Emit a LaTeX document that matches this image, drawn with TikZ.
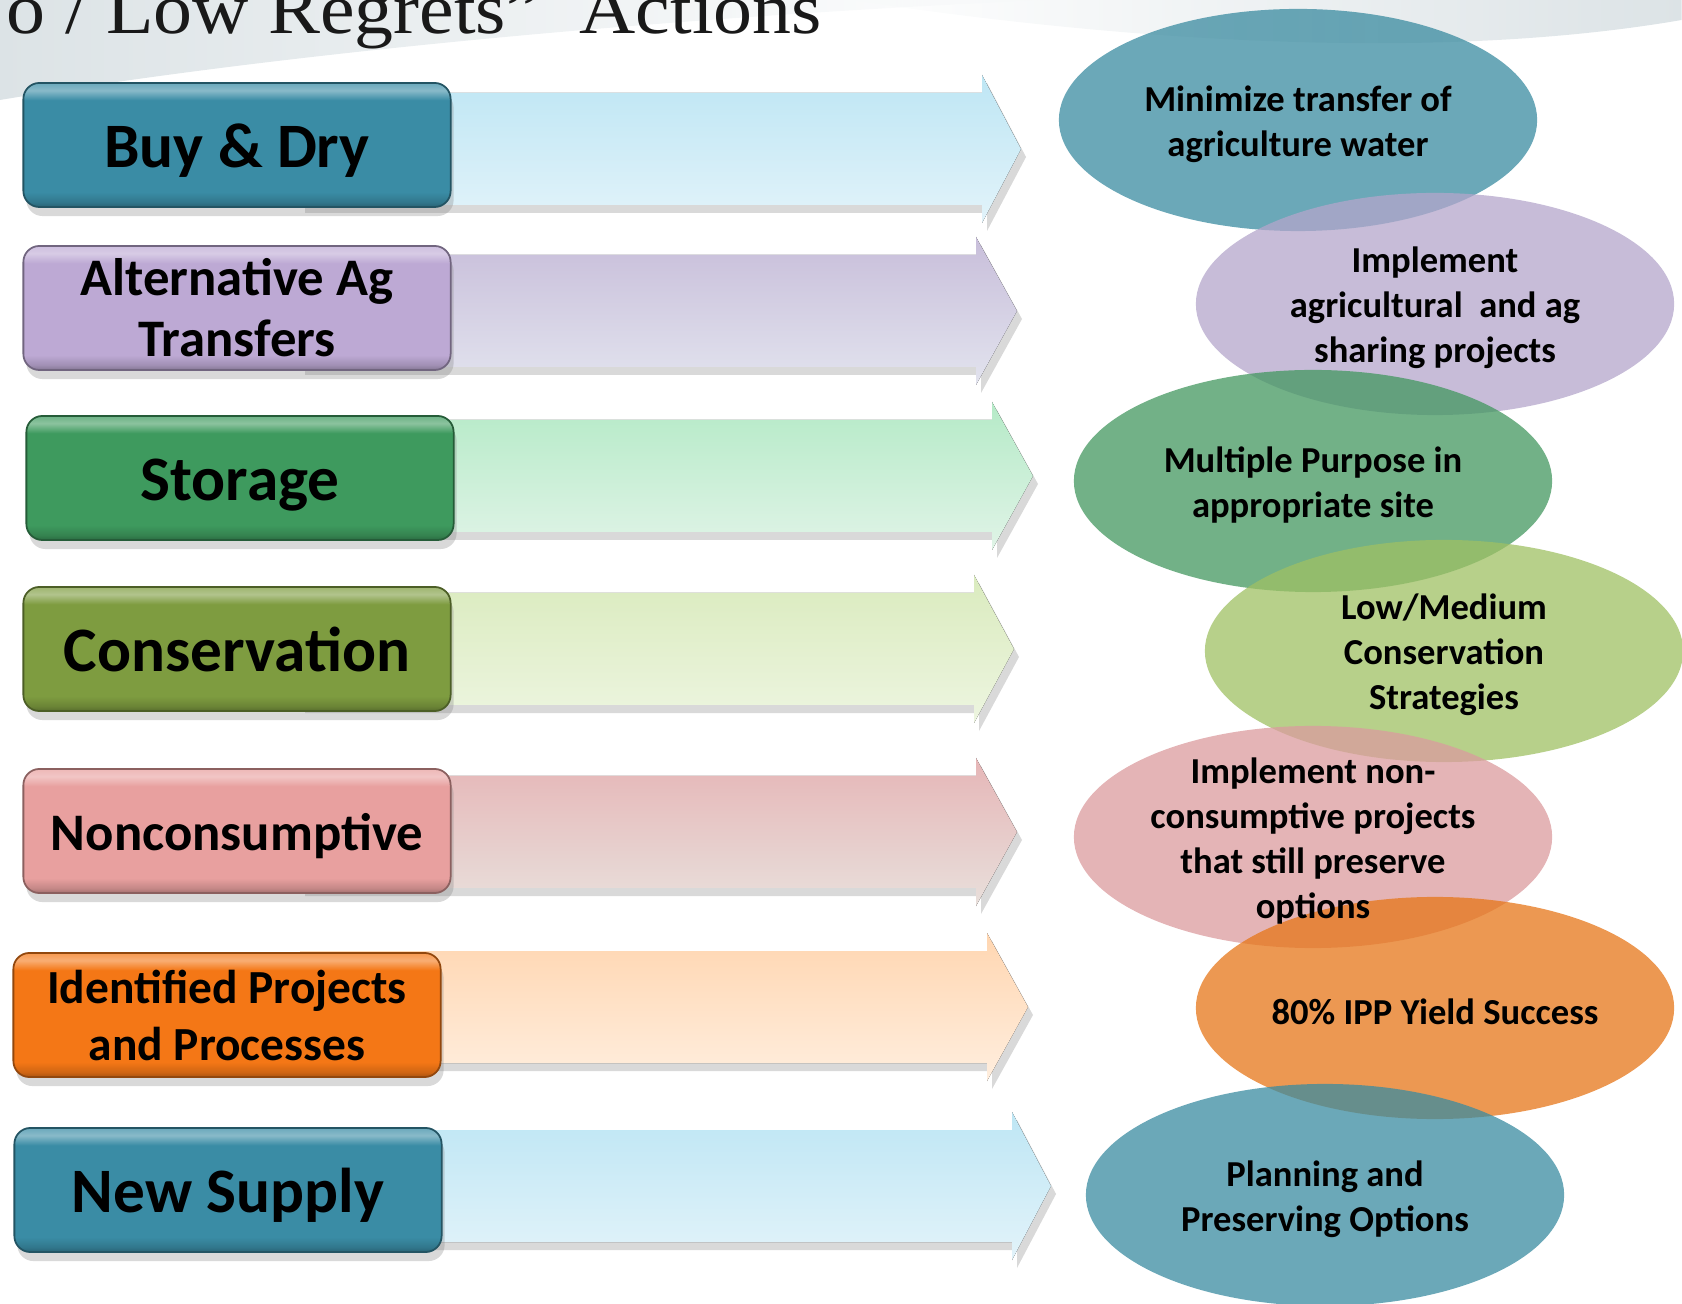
\documentclass[tikz,border=0pt]{standalone}
\usepackage{fontspec}
\setmainfont{Liberation Serif}
\newfontfamily\calib{Carlito}
\usetikzlibrary{shapes.geometric,shadows,positioning,fadings}

\colorlet{boxc}{gray}
\pgfdeclareverticalshading[boxc]{bevel}{100bp}{color(0bp)=(boxc!70!black); color(25bp)=(boxc!70!black); color(27bp)=(boxc!85!black); color(31bp)=(boxc); color(68bp)=(boxc); color(72bp)=(boxc!60!white); color(75bp)=(boxc!75!white); color(100bp)=(boxc!75!white)}

\definecolor{tealbox}{HTML}{3A8CA5}
\definecolor{lavbox}{HTML}{BDA9D4}
\definecolor{greenbox}{HTML}{3E9A5E}
\definecolor{olivebox}{HTML}{7E9C40}
\definecolor{pinkbox}{HTML}{E8A09F}
\definecolor{orangebox}{HTML}{F47716}

\definecolor{tealell}{HTML}{3A8BA0}
\definecolor{lavell}{HTML}{B4A6CB}
\definecolor{greenell}{HTML}{43975F}
\definecolor{limeell}{HTML}{9FC063}
\definecolor{pinkell}{HTML}{DB9B9E}
\definecolor{orangeell}{HTML}{E67618}

\definecolor{arBlueA}{HTML}{BEE6F4}
\definecolor{arBlueB}{HTML}{E2F3FA}
\definecolor{arLavA}{HTML}{C8BEDA}
\definecolor{arLavB}{HTML}{E2E3EE}
\definecolor{arGreenA}{HTML}{B5EAC7}
\definecolor{arGreenB}{HTML}{E0F4E7}
\definecolor{arLimeA}{HTML}{DAEBBE}
\definecolor{arLimeB}{HTML}{EDF5E0}
\definecolor{arPinkA}{HTML}{E6B6B7}
\definecolor{arPinkB}{HTML}{E8DFDB}
\definecolor{arOrA}{HTML}{FFD6B1}
\definecolor{arOrB}{HTML}{FFEEDE}
\definecolor{swooshgray}{HTML}{DCE3E6}

\tikzset{
	catbox/.style={rectangle, rounded corners=0.16cm, minimum width=4.27cm, minimum height=1.24cm,
		inner sep=0pt, align=center, draw=#1!60!black, line width=0.5pt,
		/utils/exec={\colorlet{boxc}{#1}}, shading=bevel,
		drop shadow={shadow xshift=0.3mm, shadow yshift=-0.9mm, opacity=0.3},
		font=\calib\bfseries\fontsize{18}{21.6}\selectfont},
	oneline/.style={text height=#1, text depth=0pt},
	ell/.style={ellipse, minimum width=4.78cm, minimum height=2.22cm, inner sep=0pt,
		fill=#1, fill opacity=0.75},
	etxt/.style={align=center, inner sep=0pt, yshift=-1.2pt, font=\calib\bfseries\fontsize{10.4}{12.8}\selectfont},
	blockarrow/.style={drop shadow={shadow xshift=0.5mm, shadow yshift=-0.8mm, opacity=0.3}}
}

\begin{document}
\begin{tikzpicture}[x=0.01cm, y=-0.01cm]
	\useasboundingbox (0,0) rectangle (1682,1304);
	
	% background swoosh
	\fill[swooshgray, path fading=east]
		(0,0) -- (0,100) .. controls (300,50) and (700,15) .. (1050,0) -- cycle;
	\fill[swooshgray, path fading=west]
		(850,0) .. controls (1150,45) and (1450,60) .. (1682,20) -- (1682,0) -- cycle;
	
	\node[anchor=base west, inner sep=0pt, font=\fontsize{20.5}{24}\selectfont, text=black!90] (title) at (6,34) {\scalebox{1.08}[1]{o / Low Regrets”\ \ Actions}};
	
	% block arrows behind the boxes
	\foreach \yc/\hb/\tip/\ca/\cb in {149/982/1021/arBlueA/arBlueB, 311/976/1017/arLavA/arLavB,
		476/992/1033/arGreenA/arGreenB, 649/974/1014/arLimeA/arLimeB, 832/976/1017/arPinkA/arPinkB,
		1007/987/1028/arOrA/arOrB, 1186/1012/1051/arBlueA/arBlueB}{
		\fill[blockarrow, top color=\ca, bottom color=\cb]
			(300,\yc-56) -- (\hb,\yc-56) -- (\hb,\yc-74) -- (\tip,\yc) -- (\hb,\yc+74)
			-- (\hb,\yc+56) -- (300,\yc+56) -- cycle;
	}
	
	% category boxes
	\node[catbox=tealbox, oneline=13pt] (buydry) at (237,145) {Buy \& Dry};
	\node[catbox=lavbox, font=\calib\bfseries\fontsize{15}{17.4}\selectfont] (altag) at (237,308) {Alternative Ag\\Transfers};
	\node[catbox=greenbox, oneline=13pt] (storage) at (240,478) {Storage};
	\node[catbox=olivebox, oneline=13pt] (conserv) at (237,649) {Conservation};
	\node[catbox=pinkbox, oneline=10.9pt, font=\calib\bfseries\fontsize{15}{18}\selectfont] (noncons) at (237,831) {Nonconsumptive};
	\node[catbox=orangebox, font=\calib\bfseries\fontsize{13.5}{16.2}\selectfont] (ipp) at (227,1015) {Identified Projects\\and Processes};
	\node[catbox=tealbox, oneline=13pt] (newsup) at (228,1190) {New Supply};
	
	% goal ellipses
	\node[ell=tealell] (e1) at (1298,120) {};
	\node[ell=lavell] (e2) at (1435,304) {};
	\node[ell=greenell] (e3) at (1313,481) {};
	\node[ell=limeell] (e4) at (1444,651) {};
	\node[ell=pinkell] (e5) at (1313,837) {};
	\node[ell=orangeell] (e6) at (1435,1008) {};
	\node[ell=tealell] (e7) at (1325,1195) {};
	
	\node[etxt] (t1) at (e1) {Minimize transfer of\\agriculture water};
	\node[etxt] (t2) at (e2) {Implement\\agricultural\ \ and ag\\sharing projects};
	\node[etxt] (t3) at (e3) {Multiple Purpose in\\appropriate site};
	\node[etxt] (t4) at (e4) {Low/Medium\\Conservation\\Strategies};
	\node[etxt] (t5) at (e5) {Implement non-\\consumptive projects\\that still preserve\\options};
	\node[etxt] (t6) at (e6) {80\% IPP Yield Success};
	\node[etxt] (t7) at (e7) {Planning and\\Preserving Options};
	
\end{tikzpicture}
\end{document}
